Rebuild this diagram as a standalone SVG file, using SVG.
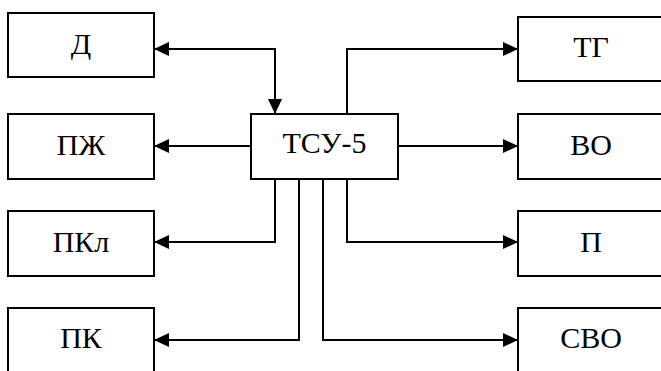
<svg xmlns="http://www.w3.org/2000/svg" width="661" height="371" viewBox="0 0 661 371">
<style>
.box{fill:#fff;stroke:#000;stroke-width:2}
.lbl{font-family:"Liberation Serif","Times New Roman",serif;font-size:30px;fill:#000;text-anchor:middle}
.con{fill:none;stroke:#000;stroke-width:2}
</style>
<defs>
<marker id="arr" markerUnits="userSpaceOnUse" markerWidth="16" markerHeight="14" refX="15" refY="7" orient="auto-start-reverse" viewBox="0 0 16 14">
<path d="M0,0 L15,7 L0,14 z" fill="#000"/>
</marker>
</defs>
<rect width="661" height="371" fill="#fff"/>
<g id="connectors">
<path class="con" d="M154,49 H275 V114" marker-start="url(#arr)" marker-end="url(#arr)"/>
<path class="con" d="M251,146 H154" marker-end="url(#arr)"/>
<path class="con" d="M275,179 V242 H154" marker-end="url(#arr)"/>
<path class="con" d="M299,179 V340 H154" marker-end="url(#arr)"/>
<path class="con" d="M323,179 V340 H518" marker-end="url(#arr)"/>
<path class="con" d="M347,179 V242 H518" marker-end="url(#arr)"/>
<path class="con" d="M398,146 H518" marker-end="url(#arr)"/>
<path class="con" d="M347,114 V49 H518" marker-end="url(#arr)"/>
</g>
<g id="n-D"><rect class="box" x="8" y="13" width="146" height="64"/><text class="lbl" x="81" y="54">Д</text></g>
<g id="n-PZh"><rect class="box" x="8" y="114" width="146" height="65"/><text class="lbl" x="81" y="155">ПЖ</text></g>
<g id="n-PKl"><rect class="box" x="8" y="211" width="146" height="65"/><text class="lbl" x="81" y="252">ПКл</text></g>
<g id="n-PK"><rect class="box" x="8" y="308" width="146" height="80"/><text class="lbl" x="81" y="348">ПК</text></g>
<g id="n-TSU"><rect class="box" x="251" y="114" width="147" height="65"/><text class="lbl" x="324.5" y="153">ТСУ-5</text></g>
<g id="n-TG"><rect class="box" x="518" y="17" width="146" height="64"/><text class="lbl" x="591" y="57">ТГ</text></g>
<g id="n-VO"><rect class="box" x="518" y="114" width="146" height="65"/><text class="lbl" x="591" y="155">ВО</text></g>
<g id="n-P"><rect class="box" x="518" y="211" width="146" height="65"/><text class="lbl" x="591" y="252">П</text></g>
<g id="n-SVO"><rect class="box" x="518" y="308" width="146" height="80"/><text class="lbl" x="591" y="348">СВО</text></g>
</svg>
